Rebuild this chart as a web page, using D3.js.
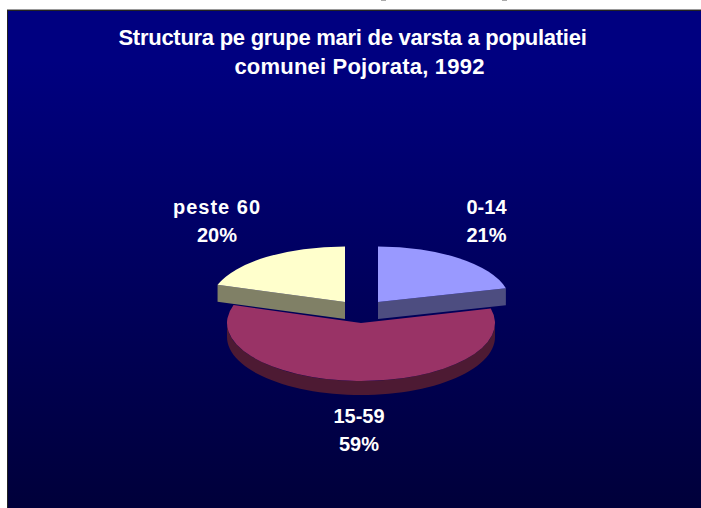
<!DOCTYPE html>
<html><head><meta charset="utf-8">
<script src="https://cdn.jsdelivr.net/npm/d3@7/dist/d3.min.js"></script>
<style>html,body{margin:0;padding:0;background:#fff}svg{display:block}</style>
</head><body><svg id="c" width="701" height="508"></svg>
<script>
const categories = ["0-14", "15-59", "peste 60"];
const values = [21, 59, 20];
const percentLabels = ["21%", "59%", "20%"];
const titleLines = ["Structura pe grupe mari de varsta a populatiei", "comunei Pojorata, 1992"];
const topColors = ["#9999ff", "#993366", "#ffffcc"];
const sideColors = ["#4d4d80", "#4d1a33", "#808066"];

const svg = d3.select("#c");
const defs = svg.append("defs");
const grad = defs.append("linearGradient").attr("id", "bg").attr("x1", 0).attr("y1", 0).attr("x2", 0).attr("y2", 1);
grad.append("stop").attr("offset", 0.1).attr("stop-color", "#000080");
grad.append("stop").attr("offset", 1).attr("stop-color", "#00003a");

svg.append("rect").attr("x", 7).attr("y", 9).attr("width", 694).attr("height", 1).attr("fill", "#999");
svg.append("rect").attr("x", 7).attr("y", 10).attr("width", 694).attr("height", 498).attr("fill", "#222");
svg.append("rect").attr("x", 8).attr("y", 11).attr("width", 693).attr("height", 497).attr("fill", "url(#bg)");
[381, 502].forEach(x => svg.append("rect").attr("x", x).attr("y", 0).attr("width", 5).attr("height", 1).attr("fill", "#aaa"));

const titleLayout = [{x: 352.5, ls: -0.27}, {x: 359.5, ls: 0.2}];
const title = svg.append("g").attr("fill", "#fff").attr("text-anchor", "middle")
  .style("font", "bold 22px 'Liberation Sans', Arial, sans-serif");
titleLines.forEach((t, i) => title.append("text").attr("x", titleLayout[i].x).attr("y", 45 + i * 29)
  .style("letter-spacing", titleLayout[i].ls + "px").text(t));

const placement = [
  {cx: 378, cy: 302, r: 132, ry: 55.5, d: 17},
  {cx: 361, cy: 323, r: 134, ry: 58, d: 14},
  {cx: 345, cy: 302, r: 134, ry: 55.5, d: 17}
];
const pie = d3.pie().sort(null).value(d => d)(values);
const order = [1, 0, 2];
const px = (p, a) => p.cx + p.r * Math.sin(a);
const py = (p, a) => p.cy - p.ry * Math.cos(a);

order.forEach(i => {
  const s = pie[i], p = placement[i];
  const g = svg.append("g");
  const a0 = Math.max(s.startAngle, Math.PI / 2), a1 = Math.min(s.endAngle, Math.PI * 1.5);
  if (a1 > a0) {
    const n = 60, rim = d3.range(n + 1).map(k => a0 + (a1 - a0) * k / n);
    const pts = rim.map(a => [px(p, a), py(p, a)]).concat(rim.slice().reverse().map(a => [px(p, a), py(p, a) + p.d]));
    g.append("path").attr("d", d3.line()(pts) + "Z").attr("fill", sideColors[i]);
  }
  const face = a => [[p.cx, p.cy], [px(p, a), py(p, a)], [px(p, a), py(p, a) + p.d], [p.cx, p.cy + p.d]];
  if (i === 0) g.append("path").attr("d", d3.line()(face(s.endAngle)) + "Z").attr("fill", sideColors[i]);
  if (i === 2) g.append("path").attr("d", d3.line()(face(s.startAngle)) + "Z").attr("fill", sideColors[i]);
  const arc = d3.arc().innerRadius(0).outerRadius(p.r);
  g.append("path").attr("d", arc(s))
    .attr("transform", `translate(${p.cx},${p.cy}) scale(1,${p.ry / p.r})`)
    .attr("fill", topColors[i]);
});

const labelPos = [[486.5, 214], [359, 423], [217, 214]];
const labelSpacing = [0, 0, 1];
const labels = svg.append("g").attr("fill", "#fff").attr("text-anchor", "middle")
  .style("font", "bold 20px 'Liberation Sans', Arial, sans-serif");
categories.forEach((c, i) => {
  labels.append("text").attr("x", labelPos[i][0]).attr("y", labelPos[i][1])
    .style("letter-spacing", labelSpacing[i] + "px").text(c);
  labels.append("text").attr("x", labelPos[i][0]).attr("y", labelPos[i][1] + 28).text(percentLabels[i]);
});
</script></body></html>
